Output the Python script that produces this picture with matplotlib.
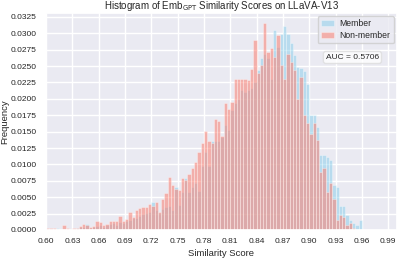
import numpy as np
import matplotlib
matplotlib.use("Agg")
import matplotlib.pyplot as plt
import seaborn as sns

# ---- data (frequency per bin) ----
bin_start = 0.60
bin_width = 0.00375
n_bins = 96

non_member = [
    0.00036, 0.00036, 0.0003, 0.00015, 0.00015, 0.0007, 0.00036, 0.00015, 0.00025, 0.00036,
    0.00066, 0.0009, 0.0007, 0.0005, 0.00066, 0.0014, 0.0012, 0.0007, 0.0009, 0.0014,
    0.0013, 0.0014, 0.0021, 0.0014, 0.0017, 0.0028, 0.0020, 0.0030, 0.0033, 0.0035,
    0.0035, 0.0040, 0.0037, 0.0042, 0.0028, 0.0048, 0.0056, 0.0081, 0.0069, 0.0063,
    0.0061, 0.0080, 0.0076, 0.0086, 0.0094, 0.0104, 0.0119, 0.0132, 0.0151, 0.0136,
    0.0133, 0.0170, 0.0166, 0.0143, 0.0193, 0.0185, 0.0196, 0.0231, 0.0231, 0.0231,
    0.0231, 0.0229, 0.0246, 0.0290, 0.0240, 0.0252, 0.0315, 0.0272, 0.0278, 0.0264,
    0.0297, 0.0251, 0.0231, 0.0269, 0.0256, 0.0244, 0.0200, 0.0234, 0.0175, 0.0163,
    0.0147, 0.0163, 0.0137, 0.0089, 0.0094, 0.0058, 0.0071, 0.0048, 0.0015, 0.0023,
    0.0020, 0.0008, 0.0010, 0.0003, 0.0, 0.0,
]

member = [
    0.0001, 0.0002, 0.0001, 0.0003, 0.0001, 0.0002, 0.0002, 0.0001, 0.0002, 0.0003,
    0.0004, 0.0005, 0.0009, 0.0003, 0.0004, 0.0006, 0.0008, 0.0005, 0.0007, 0.0009,
    0.0010, 0.0008, 0.0012, 0.0011, 0.0013, 0.0015, 0.0018, 0.0019, 0.0022, 0.0024,
    0.0026, 0.0028, 0.0043, 0.0030, 0.0026, 0.0032, 0.0035, 0.0036, 0.0030, 0.0066,
    0.0038, 0.0058, 0.0079, 0.0058, 0.0065, 0.0071, 0.0060, 0.0097, 0.0119, 0.0097,
    0.0135, 0.0135, 0.0136, 0.0142, 0.0160, 0.0152, 0.0183, 0.0193, 0.0200, 0.0213,
    0.0210, 0.0213, 0.0216, 0.0226, 0.0244, 0.0262, 0.0269, 0.0262, 0.0231, 0.0305,
    0.0279, 0.0299, 0.0311, 0.0299, 0.0285, 0.0267, 0.0249, 0.0247, 0.0243, 0.0223,
    0.0175, 0.0175, 0.0157, 0.0114, 0.0114, 0.0112, 0.0107, 0.0069, 0.0066, 0.0036,
    0.0036, 0.0023, 0.0015, 0.0010, 0.0008, 0.0015,
]

x_ticks = [0.60, 0.63, 0.66, 0.69, 0.72, 0.75, 0.78, 0.81, 0.84, 0.87, 0.90, 0.93, 0.96, 0.99]
auc_value = 0.5706

sns.set_theme(style="darkgrid")
plt.rcParams['font.family'] = ['Liberation Sans', 'DejaVu Sans']

edges = bin_start + bin_width * np.arange(n_bins + 1)
centers = (edges[:-1] + edges[1:]) / 2

fig = plt.figure(figsize=(3.97, 2.58), dpi=100)
ax = fig.add_axes([46/397, 1 - 230/258, 1 - 46/397, (230 - 13)/258])

ax.hist(centers, bins=edges, weights=member, color='skyblue', alpha=0.5,
        edgecolor='white', linewidth=0.4, label='Member')
ax.hist(centers, bins=edges, weights=non_member, color='salmon', alpha=0.55,
        edgecolor='white', linewidth=0.4, label='Non-member')

ax.set_xlim(0.60, 1.0)
ax.set_xticks(x_ticks)
ax.set_xticklabels([f"{t:.2f}" for t in x_ticks])
yt = np.arange(0, 0.0326, 0.0025)
ax.set_ylim(0, 0.0331)
ax.set_yticks(yt)
ax.set_yticklabels([f"{t:.4f}" for t in yt])
ax.tick_params(axis='both', length=0)
ax.tick_params(axis='x', labelsize=6, pad=5.5)
ax.tick_params(axis='y', labelsize=6, pad=6.5)

ax.set_title("Histogram of Emb$_{\\mathrm{GPT}}$ Similarity Scores on LLaVA-V13", fontsize=7, pad=3)
ax.set_xlabel("Similarity Score", fontsize=6.8)
ax.xaxis.set_label_coords(0.5, -0.088)
ax.set_ylabel("Frequency", fontsize=6.8)
ax.yaxis.set_label_coords(-0.106, 0.5)

ax.legend(loc='upper right', fontsize=6.2, frameon=True, labelspacing=0.35,
          borderpad=0.35, handlelength=1.6, handletextpad=0.6, borderaxespad=0.4)
ax.text(0.873, 0.795, f"AUC = {auc_value:.4f}", transform=ax.transAxes, fontsize=6,
        ha='center', va='center',
        bbox=dict(boxstyle='round,pad=0.3', facecolor='white', edgecolor='#dddddd', alpha=0.8))

fig.savefig("out.png", dpi=100)
